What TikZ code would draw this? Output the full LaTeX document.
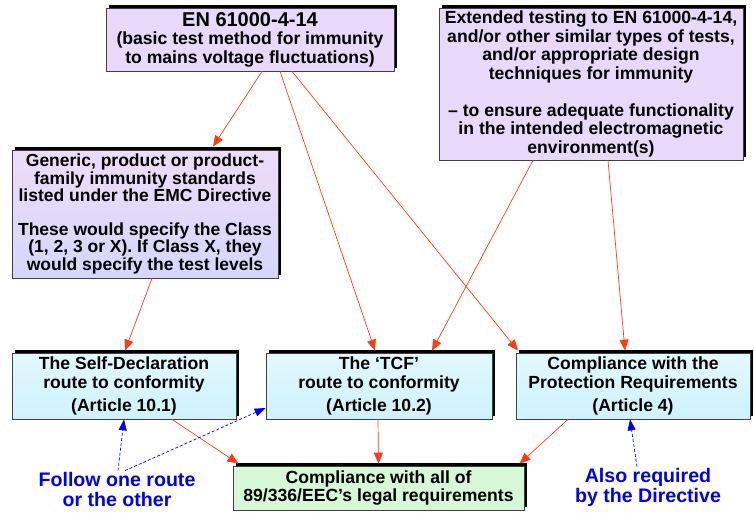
\documentclass[tikz,border=0pt]{standalone}
\usepackage{fontspec}
\setmainfont{Liberation Sans}
\usetikzlibrary{shadows,arrows.meta}
\definecolor{lav}{RGB}{232,216,250}
\definecolor{lavtop}{RGB}{238,220,248}
\definecolor{lavbot}{RGB}{214,214,250}
\definecolor{cyantop}{RGB}{226,248,254}
\definecolor{cyanbot}{RGB}{206,242,252}
\definecolor{greenbox}{RGB}{214,248,214}
\definecolor{redarr}{RGB}{255,60,20}
\definecolor{bluetxt}{RGB}{0,0,240}
\tikzset{
  box/.style={draw=black!75, line width=0.7pt, align=center, inner sep=0pt,
    font=\bfseries\fontsize{17.6}{18.6}\selectfont,
    drop shadow={shadow xshift=3pt, shadow yshift=3pt, opacity=1, fill=black}},
  redline/.style={draw=redarr, line width=0.7pt, -{Triangle[length=11pt,width=9pt]}},
  bluedash/.style={draw=bluetxt, line width=0.7pt, dashed, dash pattern=on 3pt off 2pt, -{Triangle[length=11pt,width=8pt]}},
  bluelabel/.style={text=bluetxt, align=center, inner sep=1pt, font=\bfseries\fontsize{19.6}{20}\selectfont}
}
\begin{document}
\begin{tikzpicture}[x=1pt,y=-1pt]
\useasboundingbox (0,0) rectangle (754,512);
\node[box, fill=lav, minimum width=288pt, minimum height=63pt] (en) at (250,39.5)
  {{\fontsize{20}{19}\selectfont EN 61000-4-14}\\(basic test method for immunity\\to mains voltage fluctuations)};
\node[box, fill=lav, minimum width=304pt, minimum height=152pt] (ext) at (591,84)
  {Extended testing to EN 61000-4-14,\\and/or other similar types of tests,\\and/or appropriate design\\techniques for immunity\\[18pt]-- to ensure adequate functionality\\in the intended electromagnetic\\environment(s)};
\node[box, top color=lavtop, bottom color=lavbot, minimum width=266pt, minimum height=128pt, font=\bfseries\fontsize{17.5}{17.5}\selectfont] (gen) at (145,214)
  {Generic, product or product-\\family immunity standards\\listed under the EMC Directive\\[16pt]These would specify the Class\\(1, 2, 3 or X). If Class X, they\\would specify the test levels};
\node[box, top color=cyantop, bottom color=cyanbot, minimum width=224pt, minimum height=66pt] (self) at (124,386)
  {The Self-Declaration\\route to conformity\\[4pt](Article 10.1)};
\node[box, top color=cyantop, bottom color=cyanbot, minimum width=226pt, minimum height=66pt] (tcf) at (379,386)
  {The `TCF'\\route to conformity\\[4pt](Article 10.2)};
\node[box, top color=cyantop, bottom color=cyanbot, minimum width=234pt, minimum height=66pt] (prot) at (633,386)
  {Compliance with the\\Protection Requirements\\[4pt](Article 4)};
\node[box, fill=greenbox, minimum width=291pt, minimum height=44pt] (comp) at (378.5,488)
  {Compliance with all of\\89/336/EEC's legal requirements};
\node[bluelabel] (follow) at (117,489) {Follow one route\\or the other};
\node[bluelabel] (also) at (648,487) {Also required\\by the Directive};
% red connectors
\draw[redline] ([xshift=12pt]en.south) -- ([xshift=68pt,yshift=3pt]gen.north);
\draw[redline] ([xshift=30pt]en.south) -- ([xshift=-4pt,yshift=2pt]tcf.north);
\draw[redline] ([xshift=42pt]en.south) -- ([xshift=-115pt,yshift=2pt]prot.north);
\draw[redline] ([xshift=7pt]gen.south) -- ([xshift=1pt,yshift=2pt]self.north);
\draw[redline] ([xshift=-58pt]ext.south) -- ([xshift=53pt,yshift=2pt]tcf.north);
\draw[redline] ([xshift=17pt]ext.south) -- ([xshift=-8pt,yshift=2pt]prot.north);
\draw[redline] ([xshift=48pt]self.south) -- ([xshift=-140pt,yshift=2pt]comp.north);
\draw[redline] ([xshift=-1pt]tcf.south) -- ([xshift=0pt,yshift=2pt]comp.north);
\draw[redline] ([xshift=-65pt]prot.south) -- ([xshift=141pt,yshift=2pt]comp.north);
% blue dashed connectors
\draw[bluedash] ([xshift=1pt]follow.north) -- ([xshift=0pt]self.south);
\draw[bluedash] ([xshift=8pt]follow.north) -- ([yshift=-22pt]tcf.west);
\draw[bluedash] ([xshift=-11pt]also.north) -- ([xshift=-3pt]prot.south);
\end{tikzpicture}
\end{document}
